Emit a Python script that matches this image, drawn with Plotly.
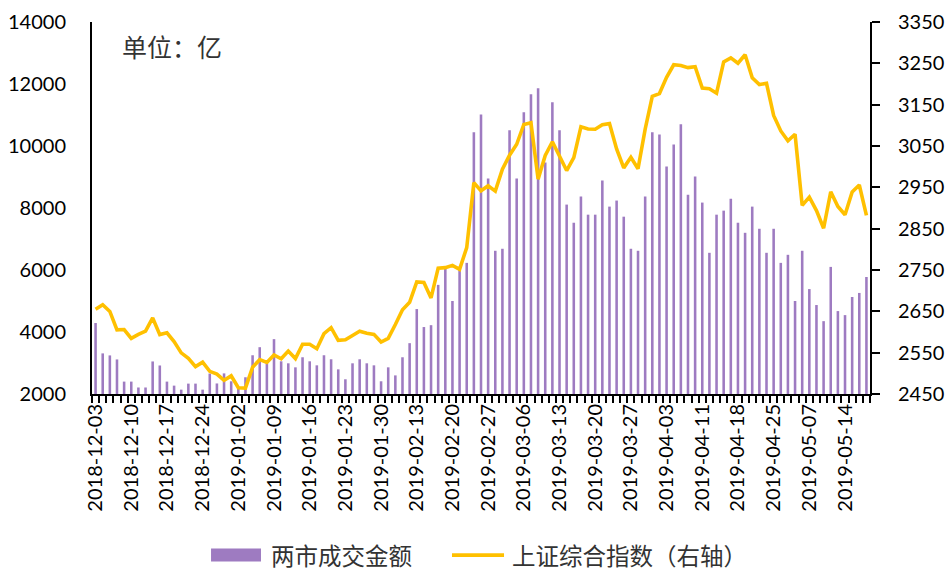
import plotly.graph_objects as go

dates = [
    "2018-12-03","2018-12-04","2018-12-05","2018-12-06","2018-12-07",
    "2018-12-10","2018-12-11","2018-12-12","2018-12-13","2018-12-14",
    "2018-12-17","2018-12-18","2018-12-19","2018-12-20","2018-12-21",
    "2018-12-24","2018-12-25","2018-12-26","2018-12-27","2018-12-28",
    "2019-01-02","2019-01-03","2019-01-04","2019-01-07","2019-01-08",
    "2019-01-09","2019-01-10","2019-01-11","2019-01-14","2019-01-15",
    "2019-01-16","2019-01-17","2019-01-18","2019-01-21","2019-01-22",
    "2019-01-23","2019-01-24","2019-01-25","2019-01-28","2019-01-29",
    "2019-01-30","2019-01-31","2019-02-01","2019-02-11","2019-02-12",
    "2019-02-13","2019-02-14","2019-02-15","2019-02-18","2019-02-19",
    "2019-02-20","2019-02-21","2019-02-22","2019-02-25","2019-02-26",
    "2019-02-27","2019-02-28","2019-03-01","2019-03-04","2019-03-05",
    "2019-03-06","2019-03-07","2019-03-08","2019-03-11","2019-03-12",
    "2019-03-13","2019-03-14","2019-03-15","2019-03-18","2019-03-19",
    "2019-03-20","2019-03-21","2019-03-22","2019-03-25","2019-03-26",
    "2019-03-27","2019-03-28","2019-03-29","2019-04-01","2019-04-02",
    "2019-04-03","2019-04-04","2019-04-08","2019-04-09","2019-04-10",
    "2019-04-11","2019-04-12","2019-04-15","2019-04-16","2019-04-17",
    "2019-04-18","2019-04-19","2019-04-22","2019-04-23","2019-04-24",
    "2019-04-25","2019-04-26","2019-04-29","2019-04-30","2019-05-06",
    "2019-05-07","2019-05-08","2019-05-09","2019-05-10","2019-05-13",
    "2019-05-14","2019-05-15","2019-05-16","2019-05-17",
]

turnover = [
    4290, 3310, 3245, 3115, 2400, 2400, 2210, 2210, 3050, 2920,
    2400, 2270, 2140, 2335, 2335, 2140, 2660, 2340, 2665, 2410,
    2200, 2540, 3250, 3510, 2990, 3770, 3055, 2990, 2860, 3185,
    3055, 2925, 3250, 3120, 2795, 2475, 2990, 3120, 2990, 2925,
    2410, 2860, 2600, 3185, 3640, 4740, 4160, 4220, 5520, 6035,
    5000, 6035, 6230, 10440, 11020, 8950, 6620, 6685, 10505, 8950,
    11090, 11670, 11865, 9470, 11410, 10505, 8110, 7525, 8370, 7785,
    7785, 8885, 8045, 8240, 7720, 6685, 6620, 8370, 10440, 10375,
    9340, 10050, 10700, 8430, 9015, 8175, 6555, 7785, 7915, 8300,
    7525, 7200, 8045, 7330, 6555, 7330, 6230, 6490, 5000, 6620,
    5385, 4870, 4350, 6100, 4675, 4545, 5130, 5260, 5775,
]

sse_index = [
    2654.80, 2665.96, 2649.81, 2605.18, 2605.89, 2584.58, 2594.09, 2602.15, 2634.05, 2593.74,
    2597.97, 2576.65, 2549.56, 2536.27, 2516.25, 2527.01, 2504.82, 2498.29, 2483.09, 2493.90,
    2465.29, 2464.36, 2514.87, 2533.09, 2526.46, 2544.34, 2535.10, 2553.83, 2535.77, 2570.42,
    2570.34, 2559.64, 2596.01, 2610.51, 2579.70, 2581.00, 2591.69, 2601.72, 2596.98, 2594.25,
    2575.58, 2584.57, 2618.23, 2653.90, 2671.89, 2721.07, 2719.70, 2682.39, 2754.36, 2755.65,
    2761.22, 2751.80, 2804.23, 2961.28, 2941.52, 2953.82, 2940.95, 2994.01, 3027.58, 3054.25,
    3102.10, 3106.42, 2969.86, 3026.99, 3060.31, 3026.95, 2990.69, 3021.75, 3096.42, 3090.98,
    3090.64, 3101.46, 3104.15, 3043.03, 2997.10, 3022.72, 2994.94, 3090.76, 3170.36, 3176.82,
    3216.30, 3246.57, 3244.81, 3239.66, 3241.93, 3189.96, 3188.63, 3177.79, 3253.60, 3263.12,
    3250.20, 3270.80, 3215.04, 3198.59, 3201.61, 3123.83, 3086.40, 3062.50, 3078.34, 2906.46,
    2926.39, 2893.76, 2850.95, 2939.21, 2903.71, 2883.61, 2938.68, 2955.71, 2882.30,
]

bar_name = "两市成交金额"
line_name = "上证综合指数（右轴）"
unit_text = "单位：亿"
left_ticks = [2000, 4000, 6000, 8000, 10000, 12000, 14000]
right_ticks = [2450, 2550, 2650, 2750, 2850, 2950, 3050, 3150, 3250, 3350]
label_every = 5

BAR_COLOR = "#9E7BC1"
LINE_COLOR = "#FFC000"
TICK_FONT = dict(family="Lato, 'Liberation Sans', sans-serif", size=20, color="#000000")
CJK_FONT = "'Noto Sans CJK SC', sans-serif"
TEXT_COLOR = "#333333"

ticktext = [d if i % label_every == 0 else "" for i, d in enumerate(dates)]

fig = go.Figure()
fig.add_trace(go.Bar(
    x=dates, y=turnover, name=bar_name,
    marker=dict(color=BAR_COLOR, line=dict(width=0)),
    showlegend=False,
))
fig.add_trace(go.Scatter(
    x=dates, y=sse_index, name=line_name, yaxis="y2",
    mode="lines", line=dict(color=LINE_COLOR, width=3.6),
    showlegend=False,
))

fig.update_layout(
    width=946, height=571,
    margin=dict(l=92, r=76, t=22, b=177, autoexpand=False),
    paper_bgcolor="white", plot_bgcolor="white",
    bargap=0.64,
    xaxis=dict(
        type="category",
        range=[-0.5, len(dates) - 0.5],
        tickmode="array", tickvals=dates, ticktext=ticktext,
        tickson="boundaries",
        ticks="outside", ticklen=7, tickwidth=2, tickcolor="#000",
        tickangle=-90, tickfont=TICK_FONT,
        showline=True, linecolor="#000", linewidth=2,
        showgrid=False, zeroline=False, automargin=False,
    ),
    yaxis=dict(
        range=[left_ticks[0], left_ticks[-1]],
        tickmode="array", tickvals=left_ticks,
        ticktext=[str(v) for v in left_ticks],
        ticks="", tickfont=TICK_FONT, ticklabelstandoff=20,
        showline=True, linecolor="#000", linewidth=2,
        showgrid=False, zeroline=False, automargin=False,
    ),
    yaxis2=dict(
        overlaying="y", side="right",
        range=[right_ticks[0], right_ticks[-1]],
        tickmode="array", tickvals=right_ticks,
        ticktext=[str(v) for v in right_ticks],
        ticks="outside", ticklen=8, tickwidth=2, tickcolor="#000",
        tickfont=TICK_FONT, ticklabelstandoff=14,
        showline=True, linecolor="#000", linewidth=2,
        showgrid=False, zeroline=False, automargin=False,
    ),
)

# unit annotation
fig.add_annotation(
    xref="paper", yref="paper", x=0.036, y=0.935,
    text=unit_text, showarrow=False, xanchor="left", yanchor="middle",
    font=dict(family=CJK_FONT, size=25, color=TEXT_COLOR),
)

# custom legend (below the axis labels)
ly = -0.433
fig.add_shape(type="rect", xref="paper", yref="paper",
              x0=0.1530, x1=0.2172, y0=ly - 0.0175, y1=ly + 0.0175,
              fillcolor=BAR_COLOR, line=dict(width=0))
fig.add_annotation(xref="paper", yref="paper", x=0.2275, y=ly,
                   text=bar_name, showarrow=False, xanchor="left", yanchor="middle",
                   font=dict(family=CJK_FONT, size=23.5, color=TEXT_COLOR))
fig.add_shape(type="line", xref="paper", yref="paper",
              x0=0.4627, x1=0.5296, y0=ly, y1=ly,
              line=dict(color=LINE_COLOR, width=3.6))
fig.add_annotation(xref="paper", yref="paper", x=0.5375, y=ly,
                   text=line_name, showarrow=False, xanchor="left", yanchor="middle",
                   font=dict(family=CJK_FONT, size=23.5, color=TEXT_COLOR))

fig.write_html(
    "out.html",
    config={"displayModeBar": False},
    post_script="document.body.style.margin='0';document.body.style.overflow='hidden';",
)
